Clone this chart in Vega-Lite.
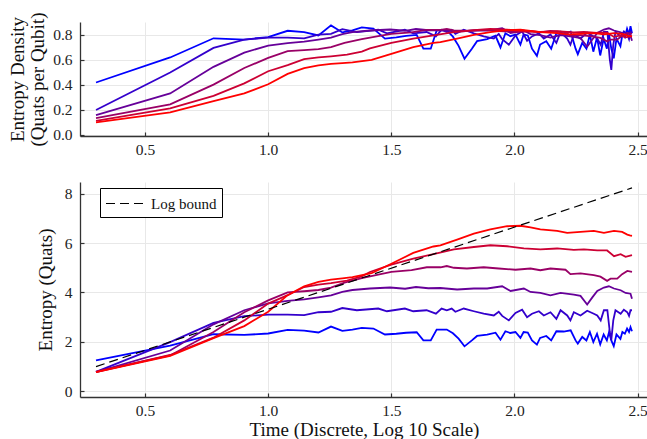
{
  "$schema": "https://vega.github.io/schema/vega-lite/v6.json",
  "background": "white",
  "padding": {"left": 8, "top": 11, "right": 0, "bottom": 0},
  "bounds": "flush",
  "spacing": 46,
  "config": {
    "font": "Liberation Serif",
    "view": {"stroke": null},
    "axis": {
      "labelFont": "Liberation Serif", "titleFont": "Liberation Serif",
      "labelFontSize": 15.5, "titleFontSize": 19, "titleFontWeight": "normal",
      "labelColor": "#222", "titleColor": "#111",
      "gridColor": "#e8e8e8", "gridWidth": 1,
      "domainColor": "#333", "domainWidth": 1.3,
      "tickColor": "#333", "tickSize": -4, "tickWidth": 1.2,
      "labelPadding": 12
    },
    "axisX": {"labelPadding": 10},
    "legend": {"labelFont": "Liberation Serif"}
  },
  "datasets": {
    "s": [
      {"x":0.301,"n":3,"E":1.25,"D":0.417},{"x":0.602,"n":3,"E":1.85,"D":0.617},{"x":0.778,"n":3,"E":2.31,"D":0.770},{"x":0.903,"n":3,"E":2.28,"D":0.760},{"x":1.0,"n":3,"E":2.34,"D":0.780},{"x":1.079,"n":3,"E":2.49,"D":0.830},{"x":1.146,"n":3,"E":2.46,"D":0.820},{"x":1.204,"n":3,"E":2.38,"D":0.793},{"x":1.255,"n":3,"E":2.62,"D":0.873},{"x":1.301,"n":3,"E":2.45,"D":0.817},{"x":1.342,"n":3,"E":2.50,"D":0.833},{"x":1.380,"n":3,"E":2.57,"D":0.857},{"x":1.427,"n":3,"E":2.54,"D":0.847},{"x":1.474,"n":3,"E":2.30,"D":0.767},{"x":1.520,"n":3,"E":2.33,"D":0.777},{"x":1.560,"n":3,"E":2.37,"D":0.790},{"x":1.603,"n":3,"E":2.39,"D":0.797},{"x":1.630,"n":3,"E":2.06,"D":0.687},{"x":1.660,"n":3,"E":2.06,"D":0.687},{"x":1.684,"n":3,"E":2.50,"D":0.833},{"x":1.725,"n":3,"E":2.50,"D":0.833},{"x":1.750,"n":3,"E":2.35,"D":0.783},{"x":1.773,"n":3,"E":2.13,"D":0.710},{"x":1.797,"n":3,"E":1.82,"D":0.607},{"x":1.827,"n":3,"E":2.06,"D":0.687},{"x":1.848,"n":3,"E":2.24,"D":0.747},{"x":1.889,"n":3,"E":2.29,"D":0.763},{"x":1.923,"n":3,"E":2.37,"D":0.790},{"x":1.943,"n":3,"E":2.09,"D":0.697},{"x":1.963,"n":3,"E":2.43,"D":0.810},{"x":1.983,"n":3,"E":2.36,"D":0.787},{"x":2.004,"n":3,"E":2.40,"D":0.800},{"x":2.024,"n":3,"E":2.16,"D":0.720},{"x":2.037,"n":3,"E":2.40,"D":0.800},{"x":2.054,"n":3,"E":2.38,"D":0.793},{"x":2.071,"n":3,"E":2.06,"D":0.687},{"x":2.091,"n":3,"E":1.89,"D":0.630},{"x":2.104,"n":3,"E":2.16,"D":0.720},{"x":2.129,"n":3,"E":2.24,"D":0.747},{"x":2.149,"n":3,"E":2.06,"D":0.687},{"x":2.170,"n":3,"E":2.43,"D":0.810},{"x":2.200,"n":3,"E":2.42,"D":0.807},{"x":2.228,"n":3,"E":2.47,"D":0.823},{"x":2.248,"n":3,"E":2.06,"D":0.687},{"x":2.257,"n":3,"E":1.93,"D":0.643},{"x":2.275,"n":3,"E":2.20,"D":0.733},{"x":2.292,"n":3,"E":2.06,"D":0.687},{"x":2.306,"n":3,"E":2.40,"D":0.800},{"x":2.320,"n":3,"E":1.99,"D":0.663},{"x":2.335,"n":3,"E":2.33,"D":0.777},{"x":2.348,"n":3,"E":1.90,"D":0.633},{"x":2.362,"n":3,"E":2.30,"D":0.767},{"x":2.375,"n":3,"E":2.06,"D":0.687},{"x":2.384,"n":3,"E":2.40,"D":0.800},{"x":2.393,"n":3,"E":2.06,"D":0.687},{"x":2.403,"n":3,"E":1.83,"D":0.610},{"x":2.414,"n":3,"E":2.30,"D":0.767},{"x":2.430,"n":3,"E":2.12,"D":0.707},{"x":2.438,"n":3,"E":2.40,"D":0.800},{"x":2.448,"n":3,"E":2.33,"D":0.777},{"x":2.457,"n":3,"E":2.54,"D":0.847},{"x":2.465,"n":3,"E":2.40,"D":0.800},{"x":2.471,"n":3,"E":2.60,"D":0.867},{"x":2.477,"n":3,"E":2.43,"D":0.810},

      {"x":0.301,"n":4,"E":0.79,"D":0.197},{"x":0.602,"n":4,"E":1.99,"D":0.497},{"x":0.778,"n":4,"E":2.77,"D":0.693},{"x":0.903,"n":4,"E":3.04,"D":0.760},{"x":1.0,"n":4,"E":3.10,"D":0.775},{"x":1.079,"n":4,"E":3.10,"D":0.775},{"x":1.146,"n":4,"E":3.08,"D":0.770},{"x":1.204,"n":4,"E":3.20,"D":0.800},{"x":1.255,"n":4,"E":3.22,"D":0.805},{"x":1.301,"n":4,"E":3.37,"D":0.843},{"x":1.360,"n":4,"E":3.28,"D":0.820},{"x":1.447,"n":4,"E":3.35,"D":0.838},{"x":1.482,"n":4,"E":3.24,"D":0.810},{"x":1.555,"n":4,"E":3.35,"D":0.838},{"x":1.589,"n":4,"E":3.24,"D":0.810},{"x":1.643,"n":4,"E":3.28,"D":0.820},{"x":1.681,"n":4,"E":3.14,"D":0.785},{"x":1.704,"n":4,"E":3.35,"D":0.838},{"x":1.725,"n":4,"E":3.28,"D":0.820},{"x":1.745,"n":4,"E":3.35,"D":0.838},{"x":1.760,"n":4,"E":3.22,"D":0.805},{"x":1.794,"n":4,"E":3.35,"D":0.838},{"x":1.835,"n":4,"E":3.24,"D":0.810},{"x":1.875,"n":4,"E":3.14,"D":0.785},{"x":1.916,"n":4,"E":3.07,"D":0.768},{"x":1.936,"n":4,"E":3.22,"D":0.805},{"x":1.950,"n":4,"E":3.05,"D":0.763},{"x":1.977,"n":4,"E":2.87,"D":0.718},{"x":2.004,"n":4,"E":3.17,"D":0.793},{"x":2.031,"n":4,"E":3.30,"D":0.825},{"x":2.051,"n":4,"E":3.00,"D":0.750},{"x":2.071,"n":4,"E":3.14,"D":0.785},{"x":2.099,"n":4,"E":3.24,"D":0.810},{"x":2.119,"n":4,"E":3.07,"D":0.768},{"x":2.146,"n":4,"E":3.20,"D":0.800},{"x":2.170,"n":4,"E":2.93,"D":0.733},{"x":2.187,"n":4,"E":3.28,"D":0.820},{"x":2.214,"n":4,"E":3.07,"D":0.768},{"x":2.227,"n":4,"E":2.87,"D":0.718},{"x":2.241,"n":4,"E":3.20,"D":0.800},{"x":2.268,"n":4,"E":3.07,"D":0.768},{"x":2.295,"n":4,"E":3.26,"D":0.815},{"x":2.322,"n":4,"E":3.14,"D":0.785},{"x":2.336,"n":4,"E":3.07,"D":0.768},{"x":2.350,"n":4,"E":2.87,"D":0.718},{"x":2.363,"n":4,"E":3.28,"D":0.820},{"x":2.377,"n":4,"E":3.28,"D":0.820},{"x":2.387,"n":4,"E":2.40,"D":0.600},{"x":2.393,"n":4,"E":2.07,"D":0.518},{"x":2.401,"n":4,"E":2.87,"D":0.718},{"x":2.410,"n":4,"E":3.28,"D":0.820},{"x":2.431,"n":4,"E":3.14,"D":0.785},{"x":2.444,"n":4,"E":3.30,"D":0.825},{"x":2.458,"n":4,"E":3.20,"D":0.800},{"x":2.465,"n":4,"E":3.05,"D":0.763},{"x":2.471,"n":4,"E":3.28,"D":0.820},{"x":2.477,"n":4,"E":3.28,"D":0.820},

      {"x":0.301,"n":5,"E":0.78,"D":0.156},{"x":0.602,"n":5,"E":1.65,"D":0.330},{"x":0.778,"n":5,"E":2.71,"D":0.542},{"x":0.903,"n":5,"E":3.28,"D":0.656},{"x":1.0,"n":5,"E":3.56,"D":0.712},{"x":1.079,"n":5,"E":3.66,"D":0.732},{"x":1.146,"n":5,"E":3.72,"D":0.744},{"x":1.204,"n":5,"E":3.80,"D":0.760},{"x":1.255,"n":5,"E":3.88,"D":0.776},{"x":1.301,"n":5,"E":4.02,"D":0.804},{"x":1.342,"n":5,"E":4.10,"D":0.820},{"x":1.413,"n":5,"E":4.16,"D":0.832},{"x":1.495,"n":5,"E":4.20,"D":0.840},{"x":1.556,"n":5,"E":4.15,"D":0.830},{"x":1.600,"n":5,"E":4.22,"D":0.844},{"x":1.650,"n":5,"E":4.17,"D":0.834},{"x":1.699,"n":5,"E":4.18,"D":0.836},{"x":1.767,"n":5,"E":4.12,"D":0.824},{"x":1.835,"n":5,"E":4.16,"D":0.832},{"x":1.889,"n":5,"E":4.16,"D":0.832},{"x":1.950,"n":5,"E":4.25,"D":0.850},{"x":1.984,"n":5,"E":4.06,"D":0.812},{"x":2.038,"n":5,"E":4.16,"D":0.832},{"x":2.065,"n":5,"E":4.02,"D":0.804},{"x":2.105,"n":5,"E":3.98,"D":0.796},{"x":2.146,"n":5,"E":3.88,"D":0.776},{"x":2.187,"n":5,"E":3.98,"D":0.796},{"x":2.241,"n":5,"E":3.91,"D":0.782},{"x":2.268,"n":5,"E":3.86,"D":0.772},{"x":2.295,"n":5,"E":3.51,"D":0.702},{"x":2.316,"n":5,"E":3.80,"D":0.760},{"x":2.336,"n":5,"E":4.06,"D":0.812},{"x":2.363,"n":5,"E":4.20,"D":0.840},{"x":2.383,"n":5,"E":4.25,"D":0.850},{"x":2.404,"n":5,"E":4.16,"D":0.832},{"x":2.431,"n":5,"E":4.09,"D":0.818},{"x":2.451,"n":5,"E":3.98,"D":0.796},{"x":2.471,"n":5,"E":3.95,"D":0.790},{"x":2.477,"n":5,"E":3.75,"D":0.750},

      {"x":0.301,"n":6,"E":0.80,"D":0.133},{"x":0.602,"n":6,"E":1.45,"D":0.242},{"x":0.778,"n":6,"E":2.40,"D":0.400},{"x":0.903,"n":6,"E":3.20,"D":0.533},{"x":1.0,"n":6,"E":3.68,"D":0.613},{"x":1.079,"n":6,"E":4.00,"D":0.667},{"x":1.146,"n":6,"E":4.05,"D":0.675},{"x":1.204,"n":6,"E":4.10,"D":0.683},{"x":1.255,"n":6,"E":4.20,"D":0.700},{"x":1.310,"n":6,"E":4.40,"D":0.733},{"x":1.380,"n":6,"E":4.58,"D":0.763},{"x":1.447,"n":6,"E":4.72,"D":0.787},{"x":1.500,"n":6,"E":4.83,"D":0.805},{"x":1.582,"n":6,"E":4.90,"D":0.817},{"x":1.644,"n":6,"E":5.02,"D":0.837},{"x":1.700,"n":6,"E":5.02,"D":0.837},{"x":1.725,"n":6,"E":5.07,"D":0.845},{"x":1.754,"n":6,"E":5.00,"D":0.833},{"x":1.807,"n":6,"E":4.97,"D":0.828},{"x":1.875,"n":6,"E":5.02,"D":0.837},{"x":1.936,"n":6,"E":4.97,"D":0.828},{"x":2.004,"n":6,"E":4.92,"D":0.820},{"x":2.065,"n":6,"E":4.97,"D":0.828},{"x":2.105,"n":6,"E":4.90,"D":0.817},{"x":2.146,"n":6,"E":4.97,"D":0.828},{"x":2.207,"n":6,"E":4.92,"D":0.820},{"x":2.227,"n":6,"E":4.74,"D":0.790},{"x":2.268,"n":6,"E":4.77,"D":0.795},{"x":2.322,"n":6,"E":4.70,"D":0.783},{"x":2.349,"n":6,"E":4.64,"D":0.773},{"x":2.376,"n":6,"E":4.47,"D":0.745},{"x":2.390,"n":6,"E":4.56,"D":0.760},{"x":2.417,"n":6,"E":4.56,"D":0.760},{"x":2.437,"n":6,"E":4.74,"D":0.790},{"x":2.458,"n":6,"E":4.87,"D":0.812},{"x":2.477,"n":6,"E":4.83,"D":0.805},

      {"x":0.301,"n":7,"E":0.78,"D":0.111},{"x":0.602,"n":7,"E":1.47,"D":0.210},{"x":0.778,"n":7,"E":2.17,"D":0.310},{"x":0.903,"n":7,"E":2.87,"D":0.410},{"x":1.0,"n":7,"E":3.55,"D":0.507},{"x":1.079,"n":7,"E":3.89,"D":0.556},{"x":1.146,"n":7,"E":4.22,"D":0.603},{"x":1.204,"n":7,"E":4.32,"D":0.617},{"x":1.255,"n":7,"E":4.38,"D":0.626},{"x":1.320,"n":7,"E":4.48,"D":0.640},{"x":1.380,"n":7,"E":4.65,"D":0.664},{"x":1.413,"n":7,"E":4.83,"D":0.690},{"x":1.500,"n":7,"E":5.13,"D":0.733},{"x":1.589,"n":7,"E":5.37,"D":0.767},{"x":1.671,"n":7,"E":5.55,"D":0.793},{"x":1.754,"n":7,"E":5.74,"D":0.820},{"x":1.835,"n":7,"E":5.84,"D":0.834},{"x":1.902,"n":7,"E":5.91,"D":0.844},{"x":1.970,"n":7,"E":5.87,"D":0.839},{"x":2.038,"n":7,"E":5.78,"D":0.826},{"x":2.105,"n":7,"E":5.74,"D":0.820},{"x":2.173,"n":7,"E":5.78,"D":0.826},{"x":2.241,"n":7,"E":5.72,"D":0.817},{"x":2.282,"n":7,"E":5.74,"D":0.820},{"x":2.336,"n":7,"E":5.70,"D":0.814},{"x":2.376,"n":7,"E":5.70,"D":0.814},{"x":2.404,"n":7,"E":5.47,"D":0.781},{"x":2.431,"n":7,"E":5.55,"D":0.793},{"x":2.451,"n":7,"E":5.44,"D":0.777},{"x":2.477,"n":7,"E":5.51,"D":0.787},

      {"x":0.301,"n":8,"E":0.78,"D":0.098},{"x":0.602,"n":8,"E":1.43,"D":0.179},{"x":0.778,"n":8,"E":2.15,"D":0.269},{"x":0.903,"n":8,"E":2.64,"D":0.330},{"x":1.0,"n":8,"E":3.22,"D":0.403},{"x":1.079,"n":8,"E":3.89,"D":0.486},{"x":1.146,"n":8,"E":4.25,"D":0.531},{"x":1.204,"n":8,"E":4.43,"D":0.554},{"x":1.255,"n":8,"E":4.52,"D":0.565},{"x":1.301,"n":8,"E":4.57,"D":0.571},{"x":1.342,"n":8,"E":4.62,"D":0.578},{"x":1.420,"n":8,"E":4.78,"D":0.598},{"x":1.500,"n":8,"E":5.16,"D":0.645},{"x":1.589,"n":8,"E":5.60,"D":0.700},{"x":1.671,"n":8,"E":5.86,"D":0.733},{"x":1.699,"n":8,"E":5.91,"D":0.739},{"x":1.767,"n":8,"E":6.14,"D":0.768},{"x":1.835,"n":8,"E":6.38,"D":0.798},{"x":1.902,"n":8,"E":6.55,"D":0.819},{"x":1.970,"n":8,"E":6.68,"D":0.835},{"x":2.024,"n":8,"E":6.70,"D":0.838},{"x":2.065,"n":8,"E":6.63,"D":0.829},{"x":2.105,"n":8,"E":6.55,"D":0.819},{"x":2.173,"n":8,"E":6.49,"D":0.811},{"x":2.214,"n":8,"E":6.41,"D":0.801},{"x":2.268,"n":8,"E":6.45,"D":0.806},{"x":2.322,"n":8,"E":6.49,"D":0.811},{"x":2.363,"n":8,"E":6.41,"D":0.801},{"x":2.404,"n":8,"E":6.49,"D":0.811},{"x":2.437,"n":8,"E":6.45,"D":0.806},{"x":2.458,"n":8,"E":6.34,"D":0.793},{"x":2.468,"n":8,"E":6.31,"D":0.789},{"x":2.477,"n":8,"E":6.29,"D":0.786}
    ],
    "b": [
      {"x":0.301,"E":1.0,"k":"Log bound"},
      {"x":2.477,"E":8.23,"k":"Log bound"}
    ]
  },
  "vconcat": [
    {
      "width": 568, "height": 114,
      "data": {"name": "s"},
      "mark": {"type": "line", "strokeWidth": 1.8},
      "encoding": {
        "x": {"field": "x", "type": "quantitative", "scale": {"domain": [0.236, 2.542], "nice": false, "zero": false}, "axis": {"values": [0.5, 1, 1.5, 2, 2.5], "format": ".1f", "title": null}},
        "y": {"field": "D", "type": "quantitative", "scale": {"domain": [-0.01, 0.9], "nice": false, "zero": false}, "axis": {"values": [0, 0.2, 0.4, 0.6, 0.8], "format": ".1f", "title": ["Entropy Density", "(Quats per Qubit)"], "titleLineHeight": 20, "titlePadding": 5}},
        "color": {"field": "n", "type": "nominal", "scale": {"domain": [3, 4, 5, 6, 7, 8], "range": ["#0000ff", "#3300cc", "#660099", "#990066", "#cc0033", "#ff0000"]}, "legend": null}
      }
    },
    {
      "width": 568, "height": 215,
      "layer": [
        {
          "data": {"name": "s"},
          "mark": {"type": "line", "strokeWidth": 1.8},
          "encoding": {
            "x": {"field": "x", "type": "quantitative", "scale": {"domain": [0.236, 2.542], "nice": false, "zero": false}, "axis": {"values": [0.5, 1, 1.5, 2, 2.5], "format": ".1f", "title": "Time (Discrete, Log 10 Scale)", "titlePadding": 2}},
            "y": {"field": "E", "type": "quantitative", "scale": {"domain": [-0.23, 8.47], "nice": false, "zero": false}, "axis": {"values": [0, 2, 4, 6, 8], "format": "d", "title": "Entropy (Quats)", "titlePadding": 9}},
            "color": {"field": "n", "type": "nominal", "scale": {"domain": [3, 4, 5, 6, 7, 8], "range": ["#0000ff", "#3300cc", "#660099", "#990066", "#cc0033", "#ff0000"]}, "legend": null}
          }
        },
        {
          "data": {"name": "b"},
          "mark": {"type": "line", "strokeWidth": 1.2, "color": "black"},
          "encoding": {
            "x": {"field": "x", "type": "quantitative"},
            "y": {"field": "E", "type": "quantitative"},
            "strokeDash": {"field": "k", "type": "nominal", "scale": {"domain": ["Log bound"], "range": [[9, 5]]},
              "legend": {"title": null, "orient": "none", "legendX": 20, "legendY": 6, "strokeColor": "black", "fillColor": "white", "padding": 5, "cornerRadius": 0, "symbolType": "M-1,0H3", "symbolSize": 361, "symbolStrokeWidth": 1.2, "symbolStrokeColor": "black", "labelFontSize": 15, "labelColor": "#111", "labelOffset": 25}}
          }
        }
      ]
    }
  ],
  "resolve": {"scale": {"strokeDash": "independent"}, "legend": {"strokeDash": "independent"}}
}
